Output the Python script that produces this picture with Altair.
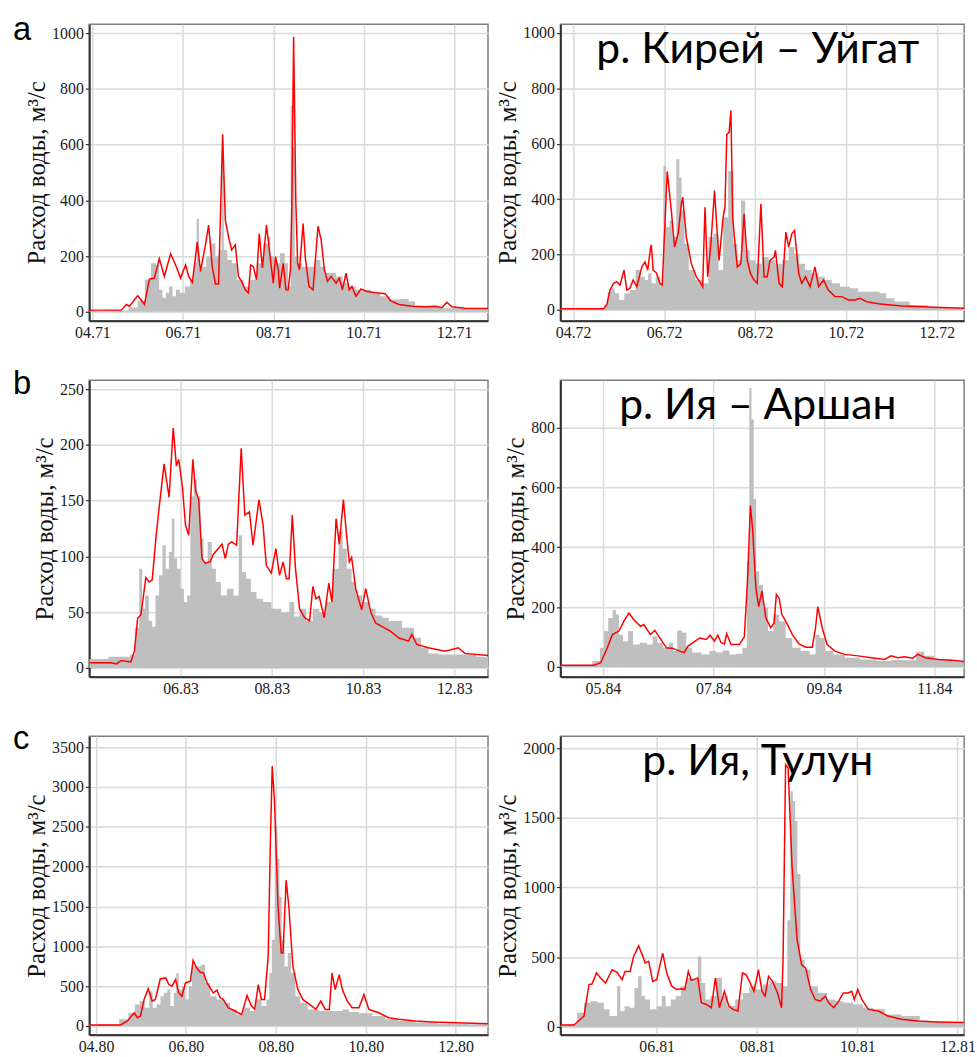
import altair as alt
import pandas as pd

# ---- data (t = month of year as a fraction, q = discharge m3/s) ----
# panel a, left (1971)
OBS_A1 = [(3.93,3),(4.70,5),(4.90,15),(5.10,40),(5.22,115),(5.37,174),(5.44,168),(5.51,79),(5.59,50),(5.66,68),
          (5.73,91),(5.81,56),(5.88,79),(5.99,68),(6.10,91),(6.21,115),(6.28,174),(6.33,334),(6.38,151),(6.46,162),
          (6.57,198),(6.68,245),(6.76,198),(6.83,222),(6.89,566),(6.92,222),(7.05,186),(7.12,174),(7.27,115),(7.41,91),
          (7.56,115),(7.71,174),(7.85,245),(7.91,269),(7.96,198),(8.07,174),(8.22,210),(8.29,174),(8.36,91),(8.41,738),
          (8.45,589),(8.50,198),(8.58,174),(8.69,162),(8.88,162),(8.99,186),(9.10,162),(9.20,139),(9.31,139),(9.46,127),
          (9.61,103),(9.75,91),(9.90,79),(10.05,79),(10.26,68),(10.48,56),(10.70,44),(10.92,46),(11.07,38),(11.21,20),
          (11.51,18),(11.87,13),(12.75,9)]
SIM_A1 = [(3.93,6),(4.64,6),(4.75,26),(4.82,20),(5.00,58),(5.07,44),(5.15,26),(5.26,117),(5.37,121),(5.48,191),
          (5.59,127),(5.73,208),(5.84,168),(5.95,121),(6.06,168),(6.13,127),(6.21,106),(6.32,251),(6.39,145),(6.50,240),
          (6.57,311),(6.65,162),(6.72,100),(6.79,100),(6.88,637),(6.94,329),(7.01,269),(7.08,222),(7.16,240),(7.23,127),
          (7.30,109),(7.38,79),(7.45,68),(7.50,168),(7.56,162),(7.63,115),(7.69,281),(7.76,157),(7.85,311),(7.93,198),
          (8.00,103),(8.05,198),(8.11,151),(8.14,85),(8.22,174),(8.28,79),(8.33,79),(8.38,151),(8.41,364),(8.45,987),
          (8.50,388),(8.54,174),(8.58,151),(8.66,317),(8.71,192),(8.79,91),(8.88,79),(8.99,307),(9.06,257),(9.13,151),
          (9.20,109),(9.28,127),(9.39,103),(9.46,121),(9.53,79),(9.61,139),(9.68,79),(9.74,91),(9.83,56),(9.94,82),
          (10.05,74),(10.26,68),(10.48,65),(10.59,40),(10.78,26),(11.07,20),(11.36,18),(11.58,20),(11.73,15),(11.84,34),
          (11.95,18),(12.24,13),(12.75,12)]

# panel a, right (1972)
OBS_A2 = [(3.72,2),(4.67,3),(4.71,20),(4.81,66),(4.87,78),(4.96,60),(5.07,36),(5.18,60),(5.32,72),(5.43,144),
          (5.54,120),(5.61,108),(5.69,132),(5.76,96),(5.87,120),(5.96,96),(6.01,520),(6.08,299),(6.16,323),(6.23,263),
          (6.31,544),(6.36,478),(6.41,359),(6.49,239),(6.60,144),(6.78,108),(6.92,96),(7.03,263),(7.14,275),(7.25,144),
          (7.35,335),(7.47,502),(7.58,239),(7.65,179),(7.74,395),(7.83,215),(7.94,179),(8.08,167),(8.23,191),(8.38,179),
          (8.53,167),(8.67,179),(8.81,227),(8.92,203),(9.03,167),(9.17,144),(9.32,132),(9.47,120),(9.61,108),(9.76,96),
          (9.98,84),(10.20,78),(10.34,66),(10.63,66),(10.85,60),(10.92,42),(11.22,30),(11.58,18),(12.02,10),(12.60,5)]
SIM_A2 = [(3.72,4),(4.67,4),(4.74,18),(4.81,72),(4.89,96),(4.96,102),(5.03,90),(5.12,144),(5.18,72),(5.25,78),
          (5.32,108),(5.40,84),(5.51,155),(5.58,173),(5.64,144),(5.70,221),(5.72,235),(5.76,144),(5.83,134),(5.91,96),
          (5.96,90),(6.00,239),(6.07,500),(6.16,359),(6.23,227),(6.31,275),(6.38,383),(6.41,407),(6.49,263),(6.60,167),
          (6.71,120),(6.81,96),(6.85,84),(6.90,371),(6.96,120),(7.03,239),(7.11,431),(7.16,299),(7.21,179),(7.30,335),
          (7.34,371),(7.38,634),(7.43,640),(7.47,720),(7.51,335),(7.56,240),(7.61,155),(7.69,167),(7.76,347),(7.83,179),
          (7.90,132),(7.98,108),(8.05,96),(8.13,383),(8.20,120),(8.27,120),(8.33,179),(8.42,191),(8.45,215),(8.53,96),
          (8.60,84),(8.68,281),(8.74,227),(8.81,275),(8.87,287),(8.96,132),(9.03,96),(9.11,120),(9.21,84),(9.32,155),
          (9.40,84),(9.51,108),(9.61,72),(9.76,48),(9.91,48),(10.05,36),(10.20,36),(10.31,42),(10.45,30),(10.71,22),
          (11.22,14),(11.95,10),(12.60,6)]

# panel b, left (1983)
OBS_B1 = [(4.00,8),(4.84,10),(4.95,12),(5.06,36),(5.13,89),(5.19,53),(5.26,65),(5.35,42),(5.41,37),(5.49,65),
          (5.57,83),(5.64,110),(5.71,89),(5.78,104),(5.84,134),(5.89,98),(5.96,89),(6.04,71),(6.11,59),(6.18,65),
          (6.25,154),(6.33,169),(6.40,154),(6.47,116),(6.54,95),(6.65,113),(6.72,89),(6.83,77),(6.94,65),(7.09,71),
          (7.23,65),(7.32,119),(7.38,86),(7.49,80),(7.59,68),(7.74,62),(7.88,59),(8.10,53),(8.32,50),(8.45,59),
          (8.54,46),(8.68,53),(8.83,42),(8.97,53),(9.12,50),(9.26,59),(9.41,89),(9.52,122),(9.59,107),(9.70,89),
          (9.80,77),(9.91,65),(10.06,59),(10.20,53),(10.35,47),(10.49,45),(10.64,42),(10.78,42),(10.93,36),(11.06,36),
          (11.18,27),(11.36,18),(11.51,13),(11.80,12),(12.23,12),(12.74,10)]
SIM_B1 = [(4.00,4.5),(4.48,4.5),(4.59,3.6),(4.70,6.5),(4.91,5.3),(4.99,15),(5.06,44.5),(5.13,47.5),(5.17,59),(5.24,81),
          (5.31,77),(5.38,79),(5.46,116),(5.53,143),(5.64,183),(5.75,153),(5.84,215),(5.91,181),(5.96,187),(6.04,163),
          (6.11,128),(6.18,119),(6.27,187),(6.33,159),(6.40,151),(6.47,98),(6.54,94),(6.65,95),(6.72,102),(6.83,107),
          (6.91,111),(6.98,98),(7.05,111),(7.12,113),(7.23,110),(7.33,197),(7.41,137),(7.51,140),(7.59,110),(7.72,151),
          (7.81,128),(7.88,92),(7.99,85),(8.09,107),(8.17,83),(8.25,95),(8.32,80),(8.38,80),(8.45,137),(8.52,89),
          (8.61,53),(8.72,45),(8.83,42),(8.90,73),(8.97,62),(9.04,64),(9.15,45),(9.25,76),(9.32,59),(9.41,134),
          (9.48,111),(9.57,151),(9.64,119),(9.70,95),(9.75,99),(9.84,71),(9.97,52),(10.06,71),(10.17,50),(10.28,40),
          (10.42,37),(10.60,33),(10.78,27),(11.00,24),(11.07,30),(11.18,21),(11.43,18),(11.80,15),(12.09,18),(12.23,13),
          (12.74,11)]

# panel b, right (1984)
OBS_B2 = [(4.23,3),(4.72,5),(4.90,20),(4.99,64),(5.05,120),(5.14,164),(5.21,191),(5.26,175),(5.32,108),(5.41,86),
          (5.50,120),(5.59,75),(5.74,81),(5.86,75),(5.94,103),(6.03,81),(6.15,64),(6.24,81),(6.30,53),(6.39,122),
          (6.48,114),(6.54,64),(6.69,48),(6.87,42),(6.99,53),(7.11,48),(7.23,55),(7.35,42),(7.47,44),(7.58,64),
          (7.63,352),(7.67,933),(7.71,828),(7.75,562),(7.80,319),(7.86,274),(7.94,197),(8.04,120),(8.13,175),(8.25,153),
          (8.37,97),(8.49,64),(8.67,53),(8.82,42),(8.88,108),(8.97,97),(9.08,53),(9.26,42),(9.50,31),(9.80,25),
          (10.10,20),(10.34,23),(10.58,22),(10.76,51),(10.88,37),(11.12,25),(11.54,18)]
SIM_B2 = [(4.23,5.5),(4.84,5.5),(4.96,14),(5.08,64),(5.17,108),(5.23,114),(5.29,120),(5.38,153),(5.47,180),(5.56,158),
          (5.68,136),(5.74,142),(5.86,108),(5.94,122),(6.03,97),(6.15,64),(6.27,62),(6.39,53),(6.47,48),(6.54,70),
          (6.63,81),(6.75,97),(6.87,92),(6.94,106),(7.02,86),(7.08,106),(7.14,81),(7.20,77),(7.24,111),(7.32,75),
          (7.47,75),(7.56,100),(7.62,297),(7.67,540),(7.71,462),(7.77,263),(7.82,202),(7.88,254),(7.95,164),(8.04,131),
          (8.10,147),(8.14,243),(8.19,230),(8.24,175),(8.31,153),(8.43,108),(8.55,77),(8.67,66),(8.79,66),(8.85,131),
          (8.89,202),(8.97,131),(9.06,75),(9.20,53),(9.38,42),(9.62,37),(9.86,31),(10.10,25),(10.22,37),(10.34,31),
          (10.46,34),(10.61,29),(10.70,42),(10.84,31),(11.08,25),(11.32,22),(11.54,18)]

# panel c, left (1980)
OBS_C1 = [(3.72,8),(4.40,21),(4.63,83),(4.81,166),(4.92,270),(5.03,312),(5.14,229),(5.23,437),(5.29,229),(5.40,270),
          (5.47,374),(5.55,416),(5.62,457),(5.69,249),(5.77,416),(5.80,665),(5.88,457),(5.95,499),(6.02,333),(6.10,499),
          (6.17,748),(6.28,748),(6.38,769),(6.47,540),(6.61,374),(6.76,333),(6.91,291),(7.05,208),(7.20,145),(7.35,229),
          (7.50,187),(7.61,333),(7.75,249),(7.83,333),(7.88,665),(7.94,1081),(8.01,2515),(8.06,2099),(8.10,1621),(8.16,1081),
          (8.23,748),(8.30,915),(8.38,665),(8.49,374),(8.60,291),(8.82,208),(9.11,187),(9.41,187),(9.56,208),(9.70,175),
          (10.00,158),(10.29,125),(10.58,83),(10.88,62),(11.32,42),(11.84,29),(12.72,21)]
SIM_C1 = [(3.72,12),(4.55,12),(4.70,62),(4.85,166),(4.92,104),(4.99,125),(5.07,333),(5.16,466),(5.25,312),(5.32,333),
          (5.43,590),(5.55,603),(5.62,520),(5.69,499),(5.77,582),(5.84,416),(5.91,374),(5.99,540),(6.10,561),(6.16,823),
          (6.24,727),(6.32,673),(6.39,665),(6.47,540),(6.61,416),(6.69,449),(6.76,353),(6.83,333),(6.94,229),(7.05,200),
          (7.16,166),(7.24,145),(7.36,382),(7.46,249),(7.53,208),(7.61,520),(7.68,333),(7.75,333),(7.83,873),(7.88,2328),
          (7.92,3263),(7.97,2827),(8.05,1497),(8.12,915),(8.16,915),(8.23,1829),(8.29,1497),(8.38,748),(8.49,457),(8.60,333),
          (8.75,270),(8.89,208),(9.00,312),(9.10,208),(9.19,208),(9.25,665),(9.32,457),(9.41,644),(9.48,457),(9.59,312),
          (9.70,229),(9.85,229),(9.96,395),(10.07,208),(10.29,166),(10.51,104),(10.73,83),(11.10,62),(11.47,50),(11.84,42),
          (12.72,29)]

# panel c, right (1981)
OBS_C2 = [(4.08,7),(4.35,19),(4.48,102),(4.62,173),(4.75,185),(4.88,173),(5.01,126),(5.11,78),(5.18,78),(5.24,292),
          (5.31,114),(5.41,149),(5.51,138),(5.60,280),(5.66,363),(5.74,221),(5.80,197),(5.93,126),(6.07,149),(6.13,221),
          (6.23,149),(6.33,197),(6.43,221),(6.53,292),(6.66,351),(6.78,339),(6.86,505),(6.92,315),(7.02,197),(7.12,221),
          (7.25,351),(7.35,221),(7.48,149),(7.65,197),(7.78,244),(7.91,292),(8.04,268),(8.18,304),(8.31,327),(8.47,315),
          (8.57,292),(8.64,766),(8.69,1691),(8.74,1620),(8.78,1478),(8.83,1098),(8.90,482),(9.00,410),(9.13,292),(9.30,244),
          (9.49,197),(9.63,185),(9.82,173),(10.02,161),(10.22,138),(10.42,126),(10.68,90),(11.08,78),(11.41,43),(12.16,31)]
SIM_C2 = [(4.08,14),(4.35,14),(4.48,55),(4.55,78),(4.65,304),(4.71,308),(4.80,387),(4.88,351),(4.98,315),(5.11,410),
          (5.21,391),(5.31,339),(5.37,398),(5.47,398),(5.54,505),(5.64,581),(5.70,529),(5.77,458),(5.84,470),(5.92,327),
          (6.00,339),(6.12,529),(6.20,387),(6.30,292),(6.40,268),(6.49,273),(6.56,268),(6.63,398),(6.69,334),(6.82,351),
          (6.89,173),(6.99,161),(7.09,138),(7.17,351),(7.25,138),(7.35,256),(7.44,149),(7.52,126),(7.62,114),(7.71,387),
          (7.78,375),(7.85,327),(7.94,256),(8.03,410),(8.10,256),(8.16,221),(8.23,363),(8.31,327),(8.41,244),(8.49,138),
          (8.52,482),(8.57,1881),(8.62,1857),(8.70,1146),(8.80,624),(8.89,446),(8.97,422),(9.07,268),(9.16,197),(9.26,185),
          (9.36,221),(9.43,173),(9.53,138),(9.63,185),(9.72,244),(9.82,244),(9.89,256),(9.94,197),(10.01,268),(10.09,197),
          (10.22,126),(10.42,114),(10.61,78),(10.88,55),(11.21,43),(11.60,36),(12.16,31)]

TITLES = ["р. Кирей – Уйгат", "р. Ия – Аршан", "р. Ия, Тулун"]
LETTERS = ["a", "b", "c"]
Y_TITLE = "Расход воды, м³/с"

SERIF = "Liberation Serif"
GRAY = "#bfbfbf"
RED = "#ff0000"
GRID = "#dadada"


def panel(obs, sim, xdom, ydom, xticks, year, yticks, w, h, title=None, letter=None, letter_y=16):
    dobs = pd.DataFrame(obs, columns=["t", "q"])
    dsim = pd.DataFrame(sim, columns=["t", "q"])
    x = alt.X("t:Q",
              scale=alt.Scale(domain=xdom, nice=False, zero=False),
              axis=alt.Axis(values=xticks, title=None, ticks=False, labelPadding=4,
                            labelExpr="(datum.value < 10 ? '0' : '') + datum.value + '." + year + "'"))
    y = alt.Y("q:Q",
              scale=alt.Scale(domain=ydom, nice=False, zero=False),
              axis=alt.Axis(values=yticks, title=Y_TITLE, format="d", tickSize=4, labelPadding=2))
    area = alt.Chart(dobs).mark_area(color=GRAY, interpolate="step", clip=True).encode(x=x, y=y)
    line = alt.Chart(dsim).mark_line(color=RED, strokeWidth=1.5, clip=True).encode(x=x, y=y)
    layers = [area, line]
    if title:
        layers.append(alt.Chart(pd.DataFrame({"s": [title]})).mark_text(
            font="Lato", fontSize=43, align="center", baseline="alphabetic", color="black"
        ).encode(x=alt.value(199), y=alt.value(39), text="s:N"))
    if letter:
        layers.append(alt.Chart(pd.DataFrame({"s": [letter]})).mark_text(
            font="Liberation Sans", fontSize=33, align="left", baseline="alphabetic", color="black"
        ).encode(x=alt.value(-77), y=alt.value(letter_y), text="s:N"))
    return alt.layer(*layers).properties(width=w, height=h)


LW, RW = 402, 407
p_a1 = panel(OBS_A1, SIM_A1, [3.93, 12.75], [-32, 1032], [4, 6, 8, 10, 12], "71",
             [0, 200, 400, 600, 800, 1000], LW, 299, letter=LETTERS[0], letter_y=16)
p_a2 = panel(OBS_A2, SIM_A2, [3.72, 12.60], [-39, 1032], [4, 6, 8, 10, 12], "72",
             [0, 200, 400, 600, 800, 1000], RW, 299, title=TITLES[0])
p_b1 = panel(OBS_B1, SIM_B1, [4.00, 12.74], [-8, 258], [6, 8, 10, 12], "83",
             [0, 50, 100, 150, 200, 250], LW, 299, letter=LETTERS[1], letter_y=14)
p_b2 = panel(OBS_B2, SIM_B2, [4.23, 11.54], [-33, 959], [5, 7, 9, 11], "84",
             [0, 200, 400, 600, 800], RW, 299, title=TITLES[1])
p_c1 = panel(OBS_C1, SIM_C1, [3.85, 12.72], [-112, 3637], [4, 6, 8, 10, 12], "80",
             [0, 500, 1000, 1500, 2000, 2500, 3000, 3500], LW, 301, letter=LETTERS[2], letter_y=13)
p_c2 = panel(OBS_C2, SIM_C2, [4.08, 12.13], [-57, 2085], [6, 8, 10, 12], "81",
             [0, 500, 1000, 1500, 2000], RW, 301, title=TITLES[2])

chart = alt.concat(
    p_a1, p_a2, p_b1, p_b2, p_c1, p_c2,
    columns=2, spacing={"row": 60, "column": 73}, bounds="flush", align="each"
).properties(
    padding={"left": 12, "top": 9, "right": 0, "bottom": 0},
    background="white"
).configure_view(
    stroke="#808080", strokeWidth=1.5
).configure_axis(
    labelFont=SERIF, labelFontSize=16, labelColor="#1a1a1a", labelFlush=False,
    titleFont=SERIF, titleFontSize=25, titleFontWeight="normal", titleColor="#111111", titlePadding=2,
    domainColor="#333333", domainWidth=2, tickColor="#333333", tickWidth=1.2,
    grid=True, gridColor=GRID, gridWidth=1.5
)

chart.save("out.html", embed_options={"renderer": "svg", "actions": False})
